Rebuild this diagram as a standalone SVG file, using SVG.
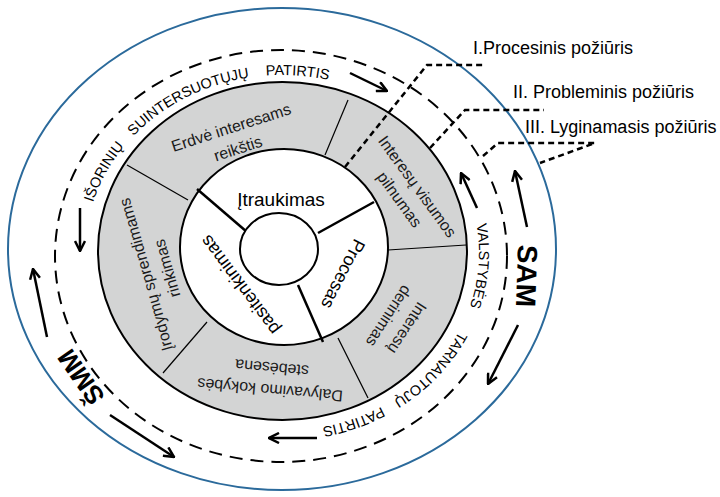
<svg xmlns="http://www.w3.org/2000/svg" width="720" height="497" viewBox="0 0 720 497">
<defs>
<style>
.t{font-family:"Liberation Sans",Arial,sans-serif;fill:#000}
.ring{font-size:14.5px}
.seg{font-size:16px;fill:#1a1a1a}
.mid{font-size:18px}
.lbl{font-size:18px}
.big{font-size:28px;font-weight:bold}
.arrow{fill:none;stroke:#000;stroke-width:2.5;marker-end:url(#ah)}
.ptr{fill:none;stroke:#000;stroke-width:2.5;stroke-dasharray:6 4}
.thin{stroke:#000;stroke-width:1.2}
.thick{stroke:#000;stroke-width:2.5}
</style>
<marker id="ah" viewBox="0 0 12 12" refX="11" refY="6" markerWidth="12" markerHeight="12" markerUnits="userSpaceOnUse" orient="auto">
<path d="M1,1 L11,6 L1,11" fill="none" stroke="#000" stroke-width="2.5"/>
</marker>
<path id="ringPath" d="M 85,253 A 197,178 0 1,1 479,253 A 197,178 0 1,1 85,253"/>
</defs>
<rect width="720" height="497" fill="#fff"/>

<g id="outer-ellipse">
<ellipse cx="282" cy="249" rx="274" ry="241" fill="#fff" stroke="#2b6a9b" stroke-width="2"/>
</g>

<g id="dashed-ring">
<ellipse cx="281" cy="256" rx="226" ry="206" fill="none" stroke="#000" stroke-width="2" stroke-dasharray="13 8"/>
<text class="t ring"><textPath href="#ringPath" startOffset="7.1%" text-anchor="middle">IŠORINIŲ</textPath></text>
<text class="t ring"><textPath href="#ringPath" startOffset="16.6%" text-anchor="middle">SUINTERSUOTŲJŲ</textPath></text>
<text class="t ring"><textPath href="#ringPath" startOffset="26.3%" text-anchor="middle">PATIRTIS</textPath></text>
<text class="t ring"><textPath href="#ringPath" startOffset="51.1%" text-anchor="middle">VALSTYBĖS</textPath></text>
<text class="t ring"><textPath href="#ringPath" startOffset="61%" text-anchor="middle">TARNAUTOJŲ</textPath></text>
<text class="t ring"><textPath href="#ringPath" startOffset="68.9%" text-anchor="middle">PATIRTIS</textPath></text>
</g>

<g id="gray-ring">
<ellipse cx="282.5" cy="251" rx="184.5" ry="169" fill="#d3d4d4" stroke="#000" stroke-width="2"/>
<line class="thin" x1="127" y1="165" x2="188" y2="200"/>
<line class="thin" x1="348" y1="100" x2="325" y2="155"/>
<line class="thin" x1="388" y1="250" x2="466" y2="245"/>
<line class="thin" x1="338" y1="338" x2="368" y2="398"/>
<line class="thin" x1="207" y1="322" x2="163" y2="373"/>
</g>

<g id="seg-erdve">
<text class="t seg" text-anchor="middle" transform="translate(234.5,138) rotate(-18)"><tspan x="0" y="-5.5">Erdvė interesams</tspan><tspan x="0" y="16.5">reikštis</tspan></text>
</g>
<g id="seg-visumos">
<text class="t seg" text-anchor="middle" transform="translate(408.5,193) rotate(54)"><tspan x="0" y="-5.5">Interesų visumos</tspan><tspan x="0" y="16.5">pilnumas</tspan></text>
</g>
<g id="seg-derinimas">
<text class="t seg" text-anchor="middle" transform="translate(398,322) rotate(123)"><tspan x="0" y="-5.5">Interesų</tspan><tspan x="0" y="16.5">derinimas</tspan></text>
</g>
<g id="seg-dalyvavimo">
<text class="t seg" text-anchor="middle" transform="translate(271,379) rotate(185)"><tspan x="0" y="-5.5">Dalyvavimo kokybės</tspan><tspan x="0" y="16.5">stebėsena</tspan></text>
</g>
<g id="seg-irodymu">
<text class="t seg" text-anchor="middle" transform="translate(156.5,271.5) rotate(-106)"><tspan x="0" y="-5.5">Įrodymų sprendimams</tspan><tspan x="0" y="16.5">rinkimas</tspan></text>
</g>

<g id="middle-ring">
<ellipse cx="284" cy="247" rx="104" ry="98" fill="#fff" stroke="#000" stroke-width="2"/>
<line class="thick" x1="197" y1="189" x2="247" y2="232"/>
<line class="thick" x1="318" y1="233" x2="374" y2="202"/>
<line class="thick" x1="298" y1="285" x2="323" y2="342"/>
</g>
<g id="mid-itraukimas">
<text class="t mid" style="font-size:19px" text-anchor="middle" x="281" y="206">Įtraukimas</text>
</g>
<g id="mid-procesas">
<text class="t mid" text-anchor="middle" transform="translate(343,274) rotate(117)" y="6">Procesas</text>
</g>
<g id="mid-pasitenkinimas">
<text class="t mid" text-anchor="middle" transform="translate(240,285) rotate(233)" y="6">pasitenkinimas</text>
</g>

<g id="center">
<ellipse cx="279" cy="249" rx="39" ry="36" fill="#fff" stroke="#000" stroke-width="2"/>
</g>

<g id="sam">
<text class="t big" text-anchor="middle" transform="translate(527,276) rotate(92)" y="10">SAM</text>
</g>
<g id="smm">
<text class="t big" style="font-size:26px" text-anchor="middle" transform="translate(81,377) rotate(-125)" y="9">ŠMM</text>
</g>

<g id="labels">
<text class="t lbl" x="473" y="54">I.Procesinis požiūris</text>
<text class="t lbl" x="513" y="98">II. Probleminis požiūris</text>
<text class="t lbl" x="525" y="133">III. Lyginamasis požiūris</text>
</g>

<g id="connectors">
<path class="arrow" d="M350,73 L387,91"/>
<path class="arrow" d="M477,208 L461,173"/>
<path class="arrow" d="M80,208 L80,251"/>
<path class="arrow" d="M317,438 L269,438"/>
<path class="arrow" d="M527,227 L515,171"/>
<path class="arrow" d="M518,325 L488,384"/>
<path class="arrow" d="M47,337 L33,269"/>
<path class="arrow" d="M110,415 L174,457"/>
<path class="ptr" d="M345,167 L427,65 L486,65"/>
<path class="ptr" d="M430,148 L465,110 L544,110"/>
<path class="ptr" d="M483,156 L498,143 L595,143 L540,163"/>
</g>
</svg>
